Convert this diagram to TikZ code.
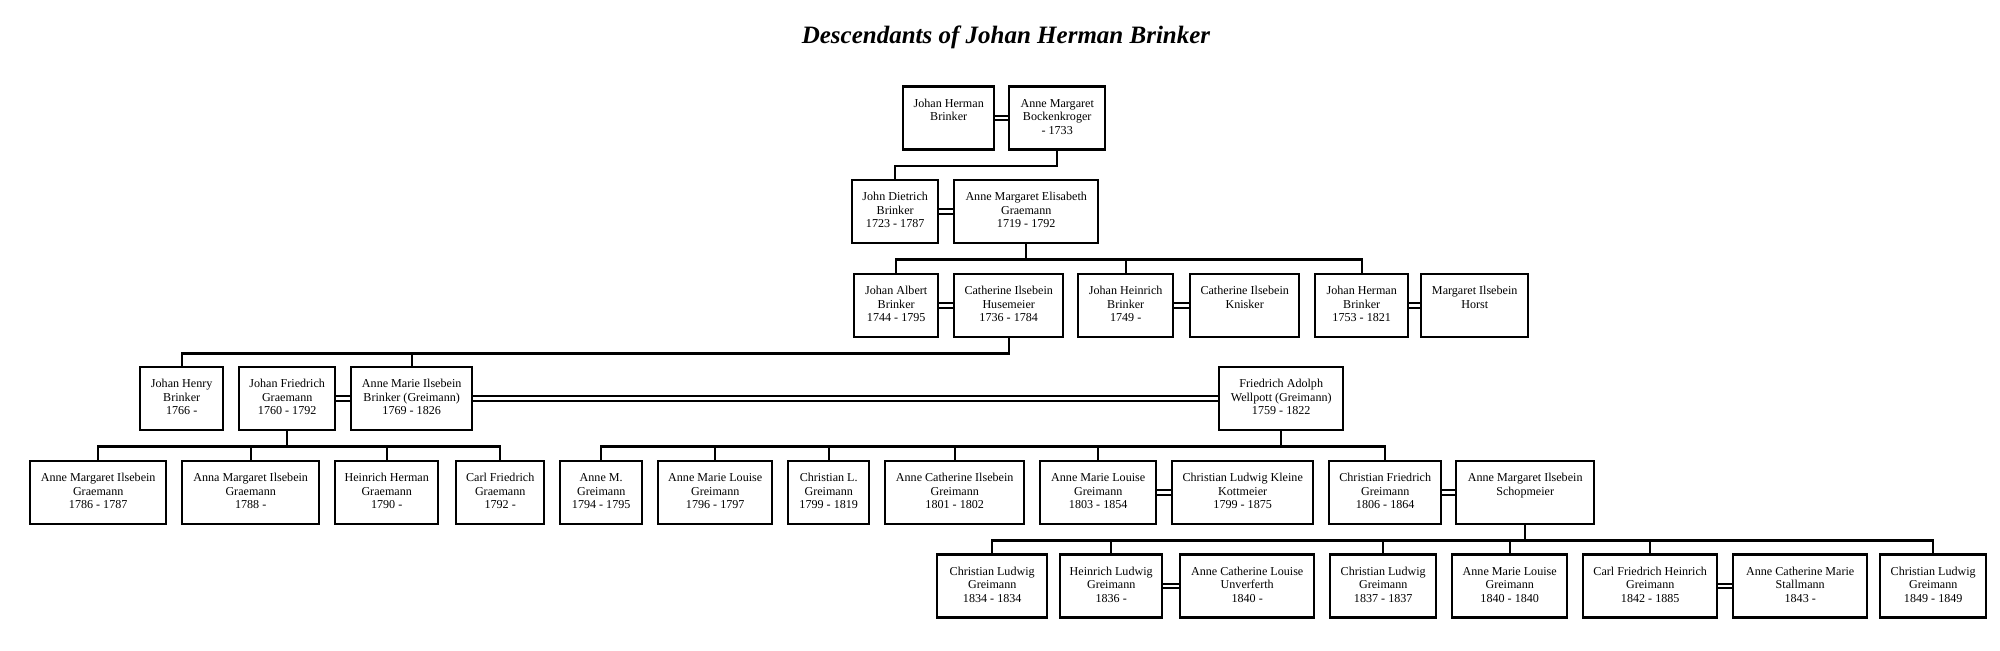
\documentclass[tikz,border=0pt]{standalone}
\usepackage{fontspec}
\setmainfont{Liberation Serif}
\usepackage{tikz}
\newcommand{\boxfont}{\fontsize{6.05}{6.7}\selectfont}
\newcommand{\who}[3]{\strut#1\\\strut#2\\\strut#3}
\tikzset{
    person/.style={anchor=west, draw, rectangle, line width=1.2pt, minimum height=31.5pt, inner sep=0pt, align=center, font=\boxfont},
    wd/.style={minimum width=#1*0.5pt},
    link/.style={line width=1.2pt},
    wed/.style={double, line width=1pt, double distance=1.3pt},
    heading/.style={anchor=base, font=\fontsize{12.5}{15}\selectfont\bfseries\itshape}
}
\newcommand{\kids}[2]{\foreach \kid in {#2} \draw[link] (#1.south) -- ++(0,15.3) -| (\kid.north);}

\begin{document}
\begin{tikzpicture}[x=0.5pt, y=-0.5pt]
    \useasboundingbox (0,0) rectangle (2000,650);
    \node[heading] (title) at (1006,43) {Descendants of Johan Herman Brinker};

    % generation 1
    \node[person, wd=91]  (jhb)   at (902,118)  {\who{Johan Herman}{Brinker}{}};
    \node[person, wd=96]  (amb)   at (1008,118) {\who{Anne Margaret}{Bockenkroger}{- 1733}};
    % generation 2
    \node[person, wd=86]  (jdb)   at (851,211.5) {\who{John Dietrich}{Brinker}{1723 - 1787}};
    \node[person, wd=144] (ameg)  at (953,211.5) {\who{Anne Margaret Elisabeth}{Graemann}{1719 - 1792}};
    % generation 3
    \node[person, wd=84]  (jab)   at (853,305.5)  {\who{Johan Albert}{Brinker}{1744 - 1795}};
    \node[person, wd=109] (cih)   at (953,305.5)  {\who{Catherine Ilsebein}{Husemeier}{1736 - 1784}};
    \node[person, wd=95]  (jheib) at (1077,305.5) {\who{Johan Heinrich}{Brinker}{1749 -}};
    \node[person, wd=109] (cik)   at (1189,305.5) {\who{Catherine Ilsebein}{Knisker}{}};
    \node[person, wd=93]  (jherb) at (1314,305.5) {\who{Johan Herman}{Brinker}{1753 - 1821}};
    \node[person, wd=107] (mih)   at (1420,305.5) {\who{Margaret Ilsebein}{Horst}{}};
    % generation 4
    \node[person, wd=83]  (jhenb) at (139,398.5)  {\who{Johan Henry}{Brinker}{1766 -}};
    \node[person, wd=96]  (jfg)   at (238,398.5)  {\who{Johan Friedrich}{Graemann}{1760 - 1792}};
    \node[person, wd=121] (amib)  at (350,398.5)  {\who{Anne Marie Ilsebein}{Brinker (Greimann)}{1769 - 1826}};
    \node[person, wd=124] (faw)   at (1218,398.5) {\who{Friedrich Adolph}{Wellpott (Greimann)}{1759 - 1822}};
    % generation 5
    \node[person, wd=136] (amig)  at (29,492.5)   {\who{Anne Margaret Ilsebein}{Graemann}{1786 - 1787}};
    \node[person, wd=137] (anmig) at (181,492.5)  {\who{Anna Margaret Ilsebein}{Graemann}{1788 -}};
    \node[person, wd=103] (hhg)   at (334,492.5)  {\who{Heinrich Herman}{Graemann}{1790 -}};
    \node[person, wd=88]  (cfg)   at (455,492.5)  {\who{Carl Friedrich}{Graemann}{1792 -}};
    \node[person, wd=82]  (amg)   at (559,492.5)  {\who{Anne M.}{Greimann}{1794 - 1795}};
    \node[person, wd=114] (amlg)  at (657,492.5)  {\who{Anne Marie Louise}{Greimann}{1796 - 1797}};
    \node[person, wd=81]  (clg)   at (787,492.5)  {\who{Christian L.}{Greimann}{1799 - 1819}};
    \node[person, wd=139] (acig)  at (884,492.5)  {\who{Anne Catherine Ilsebein}{Greimann}{1801 - 1802}};
    \node[person, wd=116] (amlgb) at (1039,492.5) {\who{Anne Marie Louise}{Greimann}{1803 - 1854}};
    \node[person, wd=141] (clkk)  at (1171,492.5) {\who{Christian Ludwig Kleine}{Kottmeier}{1799 - 1875}};
    \node[person, wd=112] (cfrg)  at (1328,492.5) {\who{Christian Friedrich}{Greimann}{1806 - 1864}};
    \node[person, wd=138] (amis)  at (1455,492.5) {\who{Anne Margaret Ilsebein}{Schopmeier}{}};
    % generation 6
    \node[person, wd=110] (clga)  at (936,586)  {\who{Christian Ludwig}{Greimann}{1834 - 1834}};
    \node[person, wd=102] (hlg)   at (1059,586) {\who{Heinrich Ludwig}{Greimann}{1836 -}};
    \node[person, wd=134] (aclu)  at (1179,586) {\who{Anne Catherine Louise}{Unverferth}{1840 -}};
    \node[person, wd=106] (clgb)  at (1329,586) {\who{Christian Ludwig}{Greimann}{1837 - 1837}};
    \node[person, wd=115] (amlgc) at (1451,586) {\who{Anne Marie Louise}{Greimann}{1840 - 1840}};
    \node[person, wd=134] (cfhg)  at (1582,586) {\who{Carl Friedrich Heinrich}{Greimann}{1842 - 1885}};
    \node[person, wd=134] (acms)  at (1732,586) {\who{Anne Catherine Marie}{Stallmann}{1843 -}};
    \node[person, wd=106] (clgc)  at (1879,586) {\who{Christian Ludwig}{Greimann}{1849 - 1849}};

    % marriages
    \draw[wed] (jhb) -- (amb) (jdb) -- (ameg) (jab) -- (cih) (jheib) -- (cik) (jherb) -- (mih);
    \draw[wed] (jfg) -- (amib) (amib) -- (faw) (amlgb) -- (clkk) (cfrg) -- (amis);
    \draw[wed] (hlg) -- (aclu) (cfhg) -- (acms);

    % descent
    \kids{amb}{jdb}
    \kids{ameg}{jab,jheib,jherb}
    \kids{cih}{jhenb,amib}
    \kids{jfg}{amig,anmig,hhg,cfg}
    \kids{faw}{amg,amlg,clg,acig,amlgb,cfrg}
    \kids{amis}{clga,hlg,clgb,amlgc,cfhg,clgc}
\end{tikzpicture}
\end{document}
